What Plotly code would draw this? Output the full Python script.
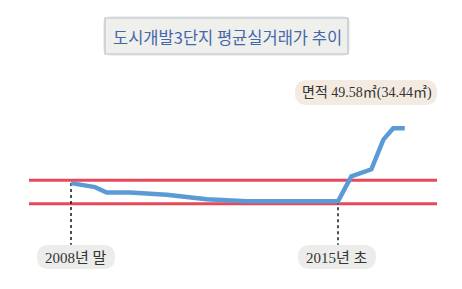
import plotly.graph_objects as go

# ---- data ----
years = [2008.90, 2009.44, 2009.70, 2010.23, 2011.05, 2011.95, 2012.85, 2014.90,
         2015.20, 2015.65, 2015.92, 2016.14, 2016.40]
price_index = [108.8, 107.1, 104.8, 104.8, 103.8, 101.9, 101.0, 101.0,
               111.7, 114.7, 127.4, 132.2, 132.2]
ref_levels = [100.0, 110.0]
marker_years = [2008.90, 2014.90]
marker_labels = ["2008년 말", "2015년 초"]
title_text = "도시개발3단지 평균실거래가 추이"
area_text = "면적 49.58㎡(34.44㎡)"

W, H = 462, 289


def px(x, y):
    return x / W, 1 - y / H


def rounded_path(x0, y0, x1, y1, r):
    def P(x, y):
        a, b = px(x, y)
        return f"{a:.5f},{b:.5f}"
    d = (f"M {P(x0 + r, y0)} L {P(x1 - r, y0)} Q {P(x1, y0)} {P(x1, y0 + r)} "
         f"L {P(x1, y1 - r)} Q {P(x1, y1)} {P(x1 - r, y1)} "
         f"L {P(x0 + r, y1)} Q {P(x0, y1)} {P(x0, y1 - r)} "
         f"L {P(x0, y0 + r)} Q {P(x0, y0)} {P(x0 + r, y0)} Z")
    return d


fig = go.Figure()
fig.add_trace(go.Scatter(x=years, y=price_index, mode="lines",
                         line=dict(color="#5b9bd5", width=4.5),
                         hoverinfo="skip", showlegend=False))

shapes = []
# red reference lines
for lv in ref_levels:
    shapes.append(dict(type="line", xref="paper", yref="y",
                       x0=29 / W, x1=437 / W, y0=lv, y1=lv,
                       line=dict(color="#e8485a", width=3), layer="below"))
# dotted markers
for yr in marker_years:
    yv = price_index[years.index(yr)]
    shapes.append(dict(type="line", xref="x", yref="y", x0=yr, x1=yr,
                       y0=yv, y1=82.5,
                       line=dict(color="#222222", width=1.6, dash="dot"), layer="below"))

# title box
shapes.append(dict(type="path", xref="paper", yref="paper",
                   path=rounded_path(103, 16, 350, 56, 8),
                   fillcolor="#efefec", line=dict(width=0), layer="below"))
x0p, y0p = px(105, 18)
x1p, y1p = px(348, 54)
shapes.append(dict(type="rect", xref="paper", yref="paper",
                   x0=x0p, x1=x1p, y0=y0p, y1=y1p,
                   fillcolor="rgba(0,0,0,0)", line=dict(color="#b9c0cf", width=1.2)))
# area label box
shapes.append(dict(type="path", xref="paper", yref="paper",
                   path=rounded_path(295, 80, 437, 105, 12),
                   fillcolor="#f3ebe1", line=dict(width=0), layer="below"))
# marker label boxes
for cx in (76, 337):
    shapes.append(dict(type="path", xref="paper", yref="paper",
                       path=rounded_path(cx - 39, 245, cx + 39, 269, 12),
                       fillcolor="#ececeb", line=dict(width=0), layer="below"))

annotations = []
ax, ay = px(227, 37)
annotations.append(dict(x=ax, y=ay, xref="paper", yref="paper", text=title_text,
                        showarrow=False, xanchor="center", yanchor="middle",
                        font=dict(family="Noto Sans CJK KR", size=16.5, color="#4466ab")))
ax, ay = px(367, 93)
annotations.append(dict(x=ax, y=ay, xref="paper", yref="paper", text=area_text,
                        showarrow=False, xanchor="center", yanchor="middle",
                        font=dict(family="Liberation Serif, Noto Sans CJK KR", size=14, color="#333333")))
for cx, lab in zip((76, 337), marker_labels):
    ax, ay = px(cx, 257.5)
    annotations.append(dict(x=ax, y=ay, xref="paper", yref="paper", text=lab,
                            showarrow=False, xanchor="center", yanchor="middle",
                            font=dict(family="Liberation Serif, Noto Sans CJK KR", size=15, color="#333333")))

x_per_px = 1 / 44.5
x_lo = 2008.90 - 71 * x_per_px
x_hi = 2008.90 + (W - 71) * x_per_px
y_per_px = 1 / 2.34
y_lo = 100 - (H - 203.7) * y_per_px
y_hi = 100 + 203.7 * y_per_px

fig.update_layout(
    width=W, height=H, autosize=False,
    margin=dict(l=0, r=0, t=0, b=0),
    paper_bgcolor="white", plot_bgcolor="white",
    xaxis=dict(range=[x_lo, x_hi], visible=False, fixedrange=True),
    yaxis=dict(range=[y_lo, y_hi], visible=False, fixedrange=True),
    shapes=shapes, annotations=annotations, showlegend=False,
)
fig.write_html("out.html", config={"displayModeBar": False})
